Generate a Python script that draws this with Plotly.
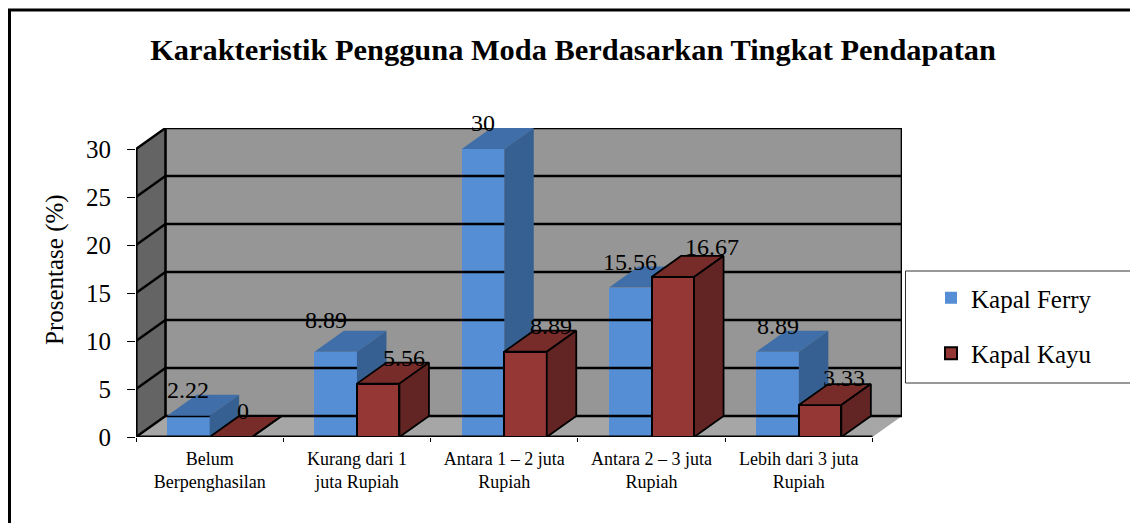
import plotly.graph_objects as go

categories = ["Belum<br>Berpenghasilan", "Kurang dari 1<br>juta Rupiah", "Antara 1 – 2 juta<br>Rupiah",
              "Antara 2 – 3 juta<br>Rupiah", "Lebih dari 3 juta<br>Rupiah"]
kapal_ferry = [2.22, 8.89, 30, 15.56, 8.89]
kapal_kayu = [0, 5.56, 8.89, 16.67, 3.33]
y_ticks = [0, 5, 10, 15, 20, 25, 30]

# pixel geometry of the plot area
W, H = 1130, 523
X0, Y0, PX_CAT, PX_VAL = 136, 437, 147.3, 9.6
DX_PX, DY_PX = 29.5, 21
DX, DY = DX_PX / PX_CAT, DY_PX / PX_VAL
N = len(categories)
XMAX = N + DX
YMAX = y_ticks[-1] + DY
BAR_W = 42.5 / PX_CAT
centers = [i + 0.5 for i in range(N)]

# label nudges in pixels (ferry, kayu)
ferry_shift = [(0, 26), (-10, 32), (0, 26), (0, 26), (0, 26)]
kayu_shift = [(12, 26), (26, 26), (25, 26), (39, 30), (24, 27)]

BACK, LEFT, FLOOR = "#969696", "#646464", "#a6a6a6"
FERRY = ("#558ed5", "#3f6ea9", "#376092")
KAYU = ("#953735", "#772c2a", "#632523")
FONT = "Liberation Serif"


def px_x(px):
    return (px - X0) / (XMAX * PX_CAT)


def px_y(py):
    return (Y0 - py) / (YMAX * PX_VAL)


def faces(values, off):
    tx, ty, sx, sy = [], [], [], []
    for c, v in zip(centers, values):
        a, b = c + off, c + off + BAR_W
        tx += [a, b, b + DX, a + DX, a, None]
        ty += [v, v, v + DY, v + DY, v, None]
        sx += [b, b + DX, b + DX, b, b, None]
        sy += [v, v + DY, DY, 0, v, None]
    return tx, ty, sx, sy


shapes = [
    dict(type="rect", xref="paper", yref="paper", x0=px_x(9.5), x1=px_x(1140), y0=px_y(10), y1=px_y(535),
         line=dict(color="black", width=3), fillcolor="white", layer="below"),
    dict(type="rect", xref="paper", yref="paper", x0=px_x(905.5), x1=px_x(1140), y0=px_y(271), y1=px_y(383),
         line=dict(color="#333333", width=1), fillcolor="white", layer="below"),
    dict(type="rect", x0=DX, x1=XMAX, y0=DY, y1=YMAX, fillcolor=BACK, line_width=0, layer="below"),
    dict(type="path", path=f"M0,0 L{DX},{DY} L{DX},{YMAX} L0,{y_ticks[-1]} Z", fillcolor=LEFT, line_width=0, layer="below"),
    dict(type="path", path=f"M0,0 L{N},0 L{XMAX},{DY} L{DX},{DY} Z", fillcolor=FLOOR, line_width=0, layer="below"),
]

fig = go.Figure()

# frame lines and grid, above the shapes, not clipped
gx, gy = [], []
for v in y_ticks:
    gx += [0, DX, XMAX, None]
    gy += [v, v + DY, v + DY, None]
fig.add_trace(go.Scatter(x=gx, y=gy, mode="lines", line=dict(color="black", width=2.4), cliponaxis=False,
                         showlegend=False, hoverinfo="skip"))
fig.add_trace(go.Scatter(x=[DX, DX, None, XMAX, XMAX], y=[DY, YMAX, None, DY, YMAX], mode="lines",
                         line=dict(color="black", width=2.6), cliponaxis=False, showlegend=False, hoverinfo="skip"))
fig.add_trace(go.Scatter(x=[0, 0, None, 0, N], y=[0, y_ticks[-1], None, 0, 0], mode="lines",
                         line=dict(color="black", width=3.2), cliponaxis=False, showlegend=False, hoverinfo="skip"))

# Ferry series on the base axes
fig.add_trace(go.Bar(x=centers, y=kapal_ferry, width=BAR_W, offset=-BAR_W, name="Kapal Ferry",
                     marker=dict(color=FERRY[0], line=dict(width=0)), legendgroup="a"))
tx, ty, sx, sy = faces(kapal_ferry, -BAR_W)
fig.add_trace(go.Scatter(x=tx, y=ty, fill="toself", fillcolor=FERRY[1], mode="none", showlegend=False,
                         cliponaxis=False, hoverinfo="skip"))
fig.add_trace(go.Scatter(x=sx, y=sy, fill="toself", fillcolor=FERRY[2], mode="none", showlegend=False,
                         cliponaxis=False, hoverinfo="skip"))

# Kayu series on an overlay, so that it covers the ferry side faces
fig.add_trace(go.Bar(x=centers, y=kapal_kayu, width=BAR_W, offset=0, name="Kapal Kayu", xaxis="x2", yaxis="y2",
                     marker=dict(color=KAYU[0], line=dict(color="black", width=2)), legendgroup="b"))
tx, ty, sx, sy = faces(kapal_kayu, 0)
for fx, fy, col in ((tx, ty, KAYU[1]), (sx, sy, KAYU[2])):
    fig.add_trace(go.Scatter(x=fx, y=fy, fill="toself", fillcolor=col, mode="lines",
                             line=dict(color="black", width=1.8), xaxis="x2", yaxis="y2", showlegend=False,
                             cliponaxis=False, hoverinfo="skip"))

annotations = []
for vals, off, shift in ((kapal_ferry, -BAR_W / 2, ferry_shift), (kapal_kayu, BAR_W / 2, kayu_shift)):
    for c, v, (sxp, syp) in zip(centers, vals, shift):
        annotations.append(dict(x=c + off, y=v, text=f"{v:g}", showarrow=False, xanchor="center", yanchor="middle",
                                xshift=sxp, yshift=syp, font=dict(family=FONT, size=24, color="black")))
annotations.append(dict(xref="paper", yref="paper", x=px_x(55), y=px_y(270), text="Prosentase (%)", textangle=-90,
                        showarrow=False, xanchor="center", yanchor="middle",
                        font=dict(family=FONT, size=25, color="black")))

x_rng = [0, XMAX]
y_rng = [0, YMAX]
fig.update_layout(
    width=W, height=H, autosize=False,
    margin=dict(l=X0, r=W - (X0 + XMAX * PX_CAT), t=Y0 - YMAX * PX_VAL, b=H - Y0, pad=0),
    paper_bgcolor="white", plot_bgcolor="rgba(0,0,0,0)",
    barmode="overlay", bargap=0,
    shapes=shapes, annotations=annotations,
    title=dict(text="<b>Karakteristik Pengguna Moda Berdasarkan Tingkat Pendapatan</b>",
               xref="container", yref="container", x=573 / W, y=1 - 49.5 / H, xanchor="center", yanchor="middle",
               font=dict(family=FONT, size=30.4, color="black")),
    xaxis=dict(range=x_rng, tickmode="array", tickvals=centers, ticktext=categories, ticks="", showgrid=False,
               zeroline=False, showline=False, tickfont=dict(family=FONT, size=18, color="black"),
               ticklabelstandoff=9,
               minor=dict(tickmode="array", tickvals=list(range(N + 1)), ticks="outside", ticklen=4,
                          tickcolor="black", tickwidth=1, showgrid=False)),
    yaxis=dict(range=y_rng, tickmode="array", tickvals=y_ticks, ticks="outside", ticklen=8, tickcolor="black",
               tickwidth=1, showgrid=False, zeroline=False, showline=False,
               tickfont=dict(family=FONT, size=25, color="black"), ticklabelstandoff=11),
    xaxis2=dict(range=x_rng, overlaying="x", visible=False, matches="x"),
    yaxis2=dict(range=y_rng, overlaying="y", visible=False, matches="y"),
    legend=dict(x=px_x(931), y=px_y(275), xanchor="left", yanchor="top", bgcolor="rgba(0,0,0,0)",
                font=dict(family=FONT, size=25, color="black"), tracegroupgap=20, borderwidth=0),
    showlegend=True,
)

fig.write_html("out.html", post_script="document.body.style.margin='0';", config={"displayModeBar": False})
